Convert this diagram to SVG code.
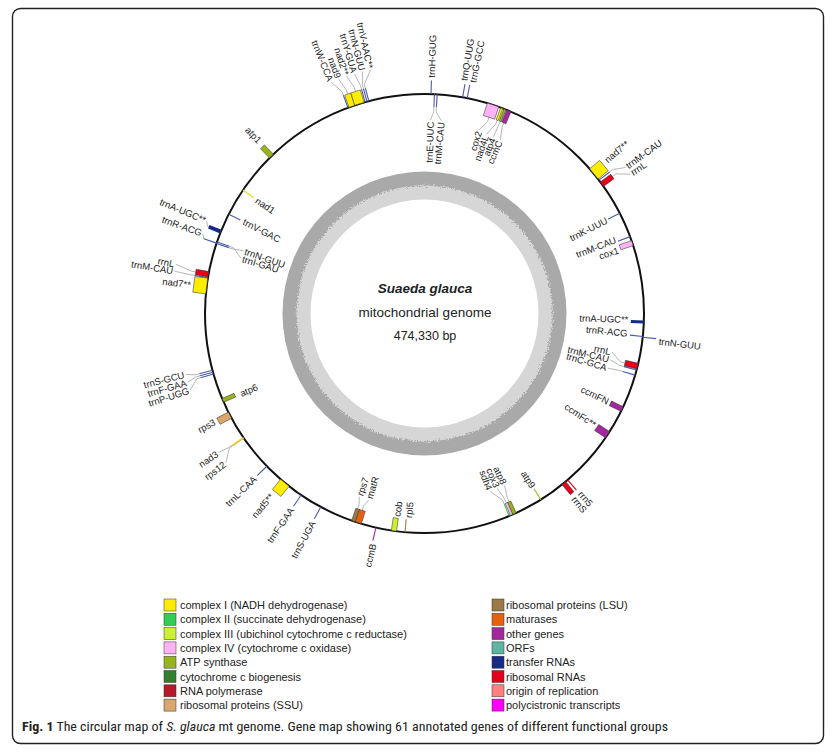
<svg xmlns="http://www.w3.org/2000/svg" width="833" height="755" viewBox="0 0 833 755">
<style>
.lbl{font-family:"Liberation Sans",Arial,sans-serif;font-size:9.5px;fill:#222}
.leg{font-family:"Liberation Sans",Arial,sans-serif;font-size:11px;fill:#222}
.ldr{stroke:#a0a0a0;stroke-width:0.7;fill:none}
.bx{stroke:#333;stroke-width:0.5}
.ln{stroke-width:1.1;fill:none}
.c1{fill:#ffec00}.s1{stroke:#e8d800}
.c2{fill:#33cc55}.s2{stroke:#33cc55}
.c3{fill:#ccf033}.s3{stroke:#b8d840}
.c4{fill:#ffb3f5}.s4{stroke:#e89ae0}
.c5{fill:#99b31a}.s5{stroke:#a8c030}
.c6{fill:#31802f}
.c7{fill:#b5192a}
.c8{fill:#d9a66c}.s8{stroke:#d9a66c}
.c9{fill:#9c7a46}.s9{stroke:#9c7a46}
.c10{fill:#e6600d}
.c11{fill:#a3289e}.s11{stroke:#a3289e}
.c12{fill:#5cb5a2}
.c13{fill:#172a85}.s13{stroke:#4a5aa8}
.c14{fill:#e3001b}.s14{stroke:#e3001b}
.c15{fill:#ff8080}
.c16{fill:#ff00ff}
</style>
<defs>
<filter id="rough" x="-10%" y="-10%" width="120%" height="120%">
<feTurbulence type="fractalNoise" baseFrequency="0.8" numOctaves="2" seed="3" result="n"/>
<feDisplacementMap in="SourceGraphic" in2="n" scale="7" xChannelSelector="R" yChannelSelector="G"/>
</filter>
</defs>
<rect x="0" y="0" width="833" height="755" fill="#fff"/>
<rect x="12.5" y="8.5" width="811" height="735" rx="8" fill="none" stroke="#222" stroke-width="1.4"/>

<g id="gc-ring" transform="translate(424.5 313.5)">
<circle r="142" fill="#a9a9a9"/>
<circle r="128" fill="#d6d6d6" filter="url(#rough)"/>
<circle r="114" fill="#fff"/>
</g>
<g id="title" text-anchor="middle" font-family="Liberation Sans,Arial,sans-serif" fill="#222">
<text x="425" y="293" font-size="13.5" font-weight="bold" font-style="italic">Suaeda glauca</text>
<text x="425" y="317" font-size="13.5">mitochondrial genome</text>
<text x="425" y="340" font-size="12.5">474,330 bp</text>
</g>

<g transform="translate(424.5 313.5)">
<circle id="genome" r="219.5" fill="none" stroke="#111" stroke-width="2"/>

<g id="connectors">
<polyline class="ldr" transform="rotate(-20.4)" points="0,-233 0,-237 -6.9,-249.4"/>
<polyline class="ldr" transform="rotate(-19.3)" points="0,-232.5 0,-237 -3.5,-249.5"/>
<polyline class="ldr" transform="rotate(-17.25)" points="0,-232.5 0,-237 -4.1,-249.5"/>
<polyline class="ldr" transform="rotate(-15.7)" points="0,-233 0,-237 -2.6,-249.5"/>
<polyline class="ldr" transform="rotate(-15.2)" points="0,-233 0,-237 3.5,-249.5"/>
<polyline class="ldr" transform="rotate(-14.7)" points="0,-233 0,-237 9.6,-249.3"/>
<polyline class="ldr" transform="rotate(2.6)" points="0,-206.5 0,-202 -2.7,-193.5"/>
<polyline class="ldr" transform="rotate(3.3)" points="0,-206.5 0,-202 5.74,-193.4"/>
<polyline class="ldr" transform="rotate(18.2)" points="0,-206.5 0,-202 -5.35,-191.4"/>
<polyline class="ldr" transform="rotate(20.6)" points="0,-206.5 0,-202 -5.29,-189.4"/>
<polyline class="ldr" transform="rotate(21.5)" points="0,-206.5 0,-202 -0.66,-189.5"/>
<polyline class="ldr" transform="rotate(22.6)" points="0,-206.5 0,-202 3.31,-189.5"/>
<polyline class="ldr" transform="rotate(52.6)" points="0,-233 0,-237 6.07,-248.4"/>
<polyline class="ldr" transform="rotate(53.9)" points="0,-232.5 0,-237 8.67,-248.3"/>
<polyline class="ldr" transform="rotate(103.9)" points="0,-206.5 0,-202 -7.69,-191.3"/>
<polyline class="ldr" transform="rotate(104.9)" points="0,-206.5 0,-202 -3.01,-191.5"/>
<polyline class="ldr" transform="rotate(106.3)" points="0,-206.5 0,-202 1,-191.5"/>
<polyline class="ldr" transform="rotate(155.8)" points="0,-206.5 0,-202 -2.65,-189.5"/>
<polyline class="ldr" transform="rotate(156.65)" points="0,-206.5 0,-202 2.48,-189.5"/>
<polyline class="ldr" transform="rotate(157.3)" points="0,-206.5 0,-202 8.27,-189.3"/>
<polyline class="ldr" transform="rotate(-161.1)" points="0,-206.5 0,-202 2.38,-194.5"/>
<polyline class="ldr" transform="rotate(-162.45)" points="0,-206.5 0,-202 -3.22,-194.5"/>
<polyline class="ldr" transform="rotate(-124.4)" points="0,-233 0,-237 1.73,-248.5"/>
<polyline class="ldr" transform="rotate(-124.6)" points="0,-233 0,-237 -9.97,-248.3"/>
<polyline class="ldr" transform="rotate(-105)" points="0,-233 0,-237 3.01,-246.5"/>
<polyline class="ldr" transform="rotate(-105.5)" points="0,-233 0,-237 -3.01,-246.5"/>
<polyline class="ldr" transform="rotate(-106)" points="0,-233 0,-237 -9.03,-246.3"/>
<polyline class="ldr" transform="rotate(-80.6)" points="0,-233 0,-237 0.88,-253.5"/>
<polyline class="ldr" transform="rotate(-79.7)" points="0,-232.5 0,-237 3.98,-253.5"/>
<polyline class="ldr" transform="rotate(-71.3)" points="0,-233 4.5,-235.5"/>
<polyline class="ldr" transform="rotate(-71.4)" points="0,-206.5 0,-202 1.67,-191.5"/>
<polyline class="ldr" transform="rotate(-71)" points="0,-206.5 0,-202 -7.69,-191.3"/>
<polyline class="ldr" transform="rotate(-68.1)" points="0,-232.5 0,-234 4.5,-236.5"/>
</g>

<g id="g-trnW-CCA"><line class="ln s13" transform="rotate(-20.4)" y1="-219.5" y2="-233"/><text class="lbl" text-anchor="end" dy=".35em" transform="rotate(-22) translate(0 -251) rotate(90)">trnW-CCA</text></g>
<g id="g-nad9"><rect class="bx c1" x="-3.15" y="-232.5" width="6.3" height="13" transform="rotate(-19.3)"/><text class="lbl" text-anchor="end" dy=".35em" transform="rotate(-20.1) translate(0 -251) rotate(90)">nad9</text></g>
<g id="g-nad2"><rect class="bx c1" x="-4.95" y="-232.5" width="9.9" height="13" transform="rotate(-17.25)"/><text class="lbl" text-anchor="end" dy=".35em" transform="rotate(-18.2) translate(0 -251) rotate(90)">nad2**</text></g>
<g id="g-trnY-GUA"><line class="ln s13" transform="rotate(-15.7)" y1="-219.5" y2="-233"/><text class="lbl" text-anchor="end" dy=".35em" transform="rotate(-16.3) translate(0 -251) rotate(90)">trnY-GUA</text></g>
<g id="g-trnN-GUU-1"><line class="ln s13" transform="rotate(-15.2)" y1="-219.5" y2="-233"/><text class="lbl" text-anchor="end" dy=".35em" transform="rotate(-14.4) translate(0 -251) rotate(90)">trnN-GUU</text></g>
<g id="g-trnV-AAC"><line class="ln s13" transform="rotate(-14.7)" y1="-219.5" y2="-233"/><text class="lbl" text-anchor="end" dy=".35em" transform="rotate(-12.5) translate(0 -251) rotate(90)">trnV-AAC**</text></g>

<g id="g-trnH-GUG"><line class="ln s13" transform="rotate(1.7)" y1="-219.5" y2="-233"/><text class="lbl" dy=".35em" transform="rotate(1.7) translate(0 -236) rotate(-90)">trnH-GUG</text></g>
<g id="g-trnE-UUC"><line class="ln s13" transform="rotate(2.6)" y1="-219.5" y2="-206.5"/><text class="lbl" text-anchor="end" dy=".35em" transform="rotate(1.8) translate(0 -192) rotate(-90)">trnE-UUC</text></g>
<g id="g-trnM-CAU-1"><line class="ln s13" transform="rotate(3.3)" y1="-219.5" y2="-206.5"/><text class="lbl" text-anchor="end" dy=".35em" transform="rotate(5) translate(0 -192) rotate(-90)">trnM-CAU</text></g>
<g id="g-trnQ-UUG"><line class="ln s13" transform="rotate(10)" y1="-219.5" y2="-233"/><text class="lbl" dy=".35em" transform="rotate(9.6) translate(0 -236) rotate(-90)">trnQ-UUG</text></g>
<g id="g-trnG-GCC"><line class="ln s13" transform="rotate(11.2)" y1="-219.5" y2="-233"/><text class="lbl" dy=".35em" transform="rotate(11.8) translate(0 -236) rotate(-90)">trnG-GCC</text></g>
<g id="g-cox2"><rect class="bx c4" x="-5.95" y="-219.5" width="11.9" height="13" transform="rotate(18.2)"/><text class="lbl" text-anchor="end" dy=".35em" transform="rotate(16.6) translate(0 -190) rotate(-90)">cox2</text></g>
<g id="g-nad4L"><rect class="bx c1" x="-1.1" y="-219.5" width="2.2" height="13" transform="rotate(20.6)"/><text class="lbl" text-anchor="end" dy=".35em" transform="rotate(19) translate(0 -188) rotate(-90)">nad4L</text></g>
<g id="g-atp4"><rect class="bx c5" x="-1.1" y="-219.5" width="2.2" height="13" transform="rotate(21.5)"/><text class="lbl" text-anchor="end" dy=".35em" transform="rotate(21.3) translate(0 -188) rotate(-90)">atp4</text></g>
<g id="g-ccmC"><rect class="bx c11" x="-2.25" y="-219.5" width="4.5" height="13" transform="rotate(22.6)"/><text class="lbl" text-anchor="end" dy=".35em" transform="rotate(23.6) translate(0 -188) rotate(-90)">ccmC</text></g>

<g id="g-nad7-1"><rect class="bx c1" x="-6.7" y="-232.5" width="13.4" height="13" transform="rotate(50.5)"/><text class="lbl" dy=".35em" transform="rotate(49.9) translate(0 -237) rotate(-90)">nad7**</text></g>
<g id="g-trnM-CAU-2"><line class="ln s13" transform="rotate(52.6)" y1="-219.5" y2="-233"/><text class="lbl" dy=".35em" transform="rotate(54) translate(0 -250) rotate(-90)">trnM-CAU</text></g>
<g id="g-rrnL-1"><rect class="bx c14" x="-2.75" y="-232.5" width="5.5" height="13" transform="rotate(53.9)"/><text class="lbl" dy=".35em" transform="rotate(55.9) translate(0 -250) rotate(-90)">rrnL</text></g>
<g id="g-trnK-UUU"><line class="ln s13" transform="rotate(62.8)" y1="-219.5" y2="-206.5"/><text class="lbl" text-anchor="end" dy=".35em" transform="rotate(62.8) translate(0 -205) rotate(-90)">trnK-UUU</text></g>
<g id="g-trnM-CAU-3"><line class="ln s13" transform="rotate(69.5)" y1="-219.5" y2="-206.5"/><text class="lbl" text-anchor="end" dy=".35em" transform="rotate(68.9) translate(0 -205) rotate(-90)">trnM-CAU</text></g>
<g id="g-cox1"><rect class="bx c4" x="-2.6" y="-219.5" width="5.2" height="13" transform="rotate(71.3)"/><text class="lbl" text-anchor="end" dy=".35em" transform="rotate(71.9) translate(0 -204) rotate(-90)">cox1</text></g>
<g id="g-trnA-UGC-1"><rect class="c13" x="-1.5" y="-219.5" width="3" height="13" transform="rotate(92.2)"/><text class="lbl" text-anchor="end" dy=".35em" transform="rotate(91.7) translate(0 -204) rotate(-90)">trnA-UGC**</text></g>
<g id="g-trnR-ACG-1"><line class="ln s13" transform="rotate(96)" y1="-219.5" y2="-206.5"/><text class="lbl" text-anchor="end" dy=".35em" transform="rotate(95.6) translate(0 -204) rotate(-90)">trnR-ACG</text></g>
<g id="g-trnN-GUU-2"><line class="ln s13" transform="rotate(96.2)" y1="-219.5" y2="-233"/><text class="lbl" dy=".35em" transform="rotate(96.8) translate(0 -236) rotate(-90)">trnN-GUU</text></g>
<g id="g-rrnL-2"><rect class="bx c14" x="-2.95" y="-219.5" width="5.9" height="13" transform="rotate(103.9)"/><text class="lbl" text-anchor="end" dy=".35em" transform="rotate(101.6) translate(0 -190) rotate(-90)">rrnL</text></g>
<g id="g-trnM-CAU-4"><line class="ln s13" transform="rotate(104.9)" y1="-219.5" y2="-206.5"/><text class="lbl" text-anchor="end" dy=".35em" transform="rotate(104) translate(0 -190) rotate(-90)">trnM-CAU</text></g>
<g id="g-trnC-GCA"><line class="ln s13" transform="rotate(106.3)" y1="-219.5" y2="-206.5"/><text class="lbl" text-anchor="end" dy=".35em" transform="rotate(106.6) translate(0 -190) rotate(-90)">trnC-GCA</text></g>
<g id="g-ccmFN"><rect class="bx c11" x="-2.6" y="-219.5" width="5.2" height="13" transform="rotate(115.8)"/><text class="lbl" text-anchor="end" dy=".35em" transform="rotate(115.6) translate(0 -204) rotate(-90)">ccmFN</text></g>
<g id="g-ccmFc"><rect class="bx c11" x="-3.7" y="-219.5" width="7.4" height="13" transform="rotate(123.5)"/><text class="lbl" text-anchor="end" dy=".35em" transform="rotate(123.2) translate(0 -204) rotate(-90)">ccmFc**</text></g>
<g id="g-rrn5"><line class="ln s14" transform="rotate(139.3)" y1="-219.5" y2="-233"/><text class="lbl" dy=".35em" transform="rotate(139) translate(0 -237) rotate(-90)">rrn5</text></g>
<g id="g-rrnS"><rect class="bx c14" x="-2.35" y="-232.5" width="4.7" height="13" transform="rotate(140.6)"/><text class="lbl" dy=".35em" transform="rotate(141) translate(0 -237) rotate(-90)">rrnS</text></g>
<g id="g-atp9"><line class="ln s5" transform="rotate(148)" y1="-219.5" y2="-206.5"/><text class="lbl" text-anchor="end" dy=".35em" transform="rotate(148) translate(0 -205) rotate(-90)">atp9</text></g>
<g id="g-atp8"><rect class="bx c5" x="-1.85" y="-219.5" width="3.7" height="13" transform="rotate(155.8)"/><text class="lbl" text-anchor="end" dy=".35em" transform="rotate(155) translate(0 -188) rotate(-90)">atp8</text></g>
<g id="g-cox3"><rect class="bx c4" x="-1.3" y="-219.5" width="2.6" height="13" transform="rotate(156.65)"/><text class="lbl" text-anchor="end" dy=".35em" transform="rotate(157.4) translate(0 -188) rotate(-90)">cox3</text></g>
<g id="g-sdh4"><line class="ln s2" transform="rotate(157.3)" y1="-219.5" y2="-206.5"/><text class="lbl" text-anchor="end" dy=".35em" transform="rotate(159.8) translate(0 -188) rotate(-90)">sdh4</text></g>

<g id="g-rpl5"><line class="ln s9" transform="rotate(-174.9)" y1="-219.5" y2="-206.5"/><text class="lbl" dy=".35em" transform="rotate(-175.6) translate(0 -205) rotate(90)">rpl5</text></g>
<g id="g-cob"><rect class="bx c3" x="-2.6" y="-219.5" width="5.2" height="13" transform="rotate(-172)"/><text class="lbl" dy=".35em" transform="rotate(-172.3) translate(0 -205) rotate(90)">cob</text></g>
<g id="g-ccmB"><line class="ln s11" transform="rotate(-167.2)" y1="-219.5" y2="-233"/><text class="lbl" text-anchor="end" dy=".35em" transform="rotate(-167.4) translate(0 -236) rotate(90)">ccmB</text></g>
<g id="g-matR"><rect class="bx c10" x="-3.15" y="-219.5" width="6.3" height="13" transform="rotate(-162.45)"/><text class="lbl" dy=".35em" transform="rotate(-163.4) translate(0 -193) rotate(90)">matR</text></g>
<g id="g-rps7"><rect class="bx c9" x="-1.85" y="-219.5" width="3.7" height="13" transform="rotate(-161.1)"/><text class="lbl" dy=".35em" transform="rotate(-160.4) translate(0 -193) rotate(90)">rps7</text></g>
<g id="g-trnS-UGA"><line class="ln s13" transform="rotate(-151.8)" y1="-219.5" y2="-233"/><text class="lbl" text-anchor="end" dy=".35em" transform="rotate(-151.8) translate(0 -236) rotate(90)">trnS-UGA</text></g>
<g id="g-trnF-GAA-1"><line class="ln s13" transform="rotate(-145.8)" y1="-219.5" y2="-233"/><text class="lbl" text-anchor="end" dy=".35em" transform="rotate(-145.8) translate(0 -236) rotate(90)">trnF-GAA</text></g>
<g id="g-nad5"><rect class="bx c1" x="-5.5" y="-232.5" width="11" height="13" transform="rotate(-140.5)"/><text class="lbl" text-anchor="end" dy=".35em" transform="rotate(-139.9) translate(0 -237) rotate(90)">nad5**</text></g>
<g id="g-trnL-CAA"><line class="ln s13" transform="rotate(-134.1)" y1="-219.5" y2="-233"/><text class="lbl" text-anchor="end" dy=".35em" transform="rotate(-134.1) translate(0 -236) rotate(90)">trnL-CAA</text></g>
<g id="g-rps12"><line class="ln s8" transform="rotate(-124.6)" y1="-219.5" y2="-233"/><text class="lbl" text-anchor="end" dy=".35em" transform="rotate(-126.9) translate(0 -250) rotate(90)">rps12</text></g>
<g id="g-nad3"><line class="ln s1" stroke-width="1.6" transform="rotate(-124.4)" y1="-219.5" y2="-233"/><text class="lbl" text-anchor="end" dy=".35em" transform="rotate(-124) translate(0 -250) rotate(90)">nad3</text></g>
<g id="g-rps3"><rect class="bx c8" x="-3.55" y="-232.5" width="7.1" height="13" transform="rotate(-117.6)"/><text class="lbl" text-anchor="end" dy=".35em" transform="rotate(-117.3) translate(0 -236) rotate(90)">rps3</text></g>
<g id="g-atp6"><rect class="bx c5" x="-2.05" y="-219.5" width="4.1" height="13" transform="rotate(-113.3)"/><text class="lbl" dy=".35em" transform="rotate(-113.6) translate(0 -201) rotate(90)">atp6</text></g>
<g id="g-trnS-GCU"><line class="ln s13" transform="rotate(-105)" y1="-219.5" y2="-233"/><text class="lbl" text-anchor="end" dy=".35em" transform="rotate(-104.3) translate(0 -248) rotate(90)">trnS-GCU</text></g>
<g id="g-trnF-GAA-2"><line class="ln s13" transform="rotate(-105.5)" y1="-219.5" y2="-233"/><text class="lbl" text-anchor="end" dy=".35em" transform="rotate(-106.2) translate(0 -248) rotate(90)">trnF-GAA</text></g>
<g id="g-trnP-UGG"><line class="ln s13" transform="rotate(-106)" y1="-219.5" y2="-233"/><text class="lbl" text-anchor="end" dy=".35em" transform="rotate(-108.1) translate(0 -248) rotate(90)">trnP-UGG</text></g>
<g id="g-nad7-2"><rect class="bx c1" x="-7.9" y="-232.5" width="15.8" height="13" transform="rotate(-82.8)"/><text class="lbl" text-anchor="end" dy=".35em" transform="rotate(-83) translate(0 -235.5) rotate(90)">nad7**</text></g>
<g id="g-trnM-CAU-5"><line class="ln s13" transform="rotate(-80.6)" y1="-219.5" y2="-233"/><text class="lbl" text-anchor="end" dy=".35em" transform="rotate(-80.4) translate(0 -255) rotate(90)">trnM-CAU</text></g>
<g id="g-rrnL-3"><rect class="bx c14" x="-2.75" y="-232.5" width="5.5" height="13" transform="rotate(-79.7)"/><text class="lbl" text-anchor="end" dy=".35em" transform="rotate(-78.8) translate(0 -255) rotate(90)">rrnL</text></g>
<g id="g-trnR-ACG-2"><line class="ln s13" transform="rotate(-71.3)" y1="-219.5" y2="-233"/><text class="lbl" text-anchor="end" dy=".35em" transform="rotate(-70.2) translate(0 -237) rotate(90)">trnR-ACG</text></g>
<g id="g-trnN-GUU-3"><line class="ln s13" transform="rotate(-71.4)" y1="-219.5" y2="-206.5"/><text class="lbl" dy=".35em" transform="rotate(-70.9) translate(0 -190) rotate(90)">trnN-GUU</text></g>
<g id="g-trnI-GAU"><line class="ln s13" transform="rotate(-71)" y1="-219.5" y2="-206.5"/><text class="lbl" dy=".35em" transform="rotate(-73.3) translate(0 -190) rotate(90)">trnI-GAU</text></g>
<g id="g-trnA-UGC-2"><rect class="c13" x="-1.95" y="-232.5" width="3.9" height="13" transform="rotate(-68.1)"/><text class="lbl" text-anchor="end" dy=".35em" transform="rotate(-67) translate(0 -238) rotate(90)">trnA-UGC**</text></g>
<g id="g-trnV-GAC"><line class="ln s13" transform="rotate(-63.1)" y1="-219.5" y2="-206.5"/><text class="lbl" dy=".35em" transform="rotate(-63) translate(0 -203) rotate(90)">trnV-GAC</text></g>
<g id="g-nad1"><line class="ln s1" transform="rotate(-55.8)" y1="-219.5" y2="-206.5"/><text class="lbl" dy=".35em" transform="rotate(-55.9) translate(0 -203) rotate(90)">nad1</text></g>
<g id="g-atp1"><rect class="bx c5" x="-2.75" y="-232.5" width="5.5" height="13" transform="rotate(-44.2)"/><text class="lbl" text-anchor="end" dy=".35em" transform="rotate(-43.8) translate(0 -238) rotate(90)">atp1</text></g>
</g>

<g id="legend">
<g class="bx"><rect class="c1" x="164" y="599" width="12" height="12"/><rect class="c2" x="164" y="613.3" width="12" height="12"/><rect class="c3" x="164" y="627.6" width="12" height="12"/><rect class="c4" x="164" y="641.9" width="12" height="12"/><rect class="c5" x="164" y="656.2" width="12" height="12"/><rect class="c6" x="164" y="670.5" width="12" height="12"/><rect class="c7" x="164" y="684.8" width="12" height="12"/><rect class="c8" x="164" y="699.1" width="12" height="12"/>
<rect class="c9" x="492" y="599" width="12" height="12"/><rect class="c10" x="492" y="613.3" width="12" height="12"/><rect class="c11" x="492" y="627.6" width="12" height="12"/><rect class="c12" x="492" y="641.9" width="12" height="12"/><rect class="c13" x="492" y="656.2" width="12" height="12"/><rect class="c14" x="492" y="670.5" width="12" height="12"/><rect class="c15" x="492" y="684.8" width="12" height="12"/><rect class="c16" x="492" y="699.1" width="12" height="12"/></g>
<text class="leg" x="180" y="609">complex I (NADH dehydrogenase)</text>
<text class="leg" x="180" y="623.3">complex II (succinate dehydrogenase)</text>
<text class="leg" x="180" y="637.6">complex III (ubichinol cytochrome c reductase)</text>
<text class="leg" x="180" y="651.9">complex IV (cytochrome c oxidase)</text>
<text class="leg" x="180" y="666.2">ATP synthase</text>
<text class="leg" x="180" y="680.5">cytochrome c biogenesis</text>
<text class="leg" x="180" y="694.8">RNA polymerase</text>
<text class="leg" x="180" y="709.1">ribosomal proteins (SSU)</text>
<text class="leg" x="506" y="609">ribosomal proteins (LSU)</text>
<text class="leg" x="506" y="623.3">maturases</text>
<text class="leg" x="506" y="637.6">other genes</text>
<text class="leg" x="506" y="651.9">ORFs</text>
<text class="leg" x="506" y="666.2">transfer RNAs</text>
<text class="leg" x="506" y="680.5">ribosomal RNAs</text>
<text class="leg" x="506" y="694.8">origin of replication</text>
<text class="leg" x="506" y="709.1">polycistronic transcripts</text>
</g>

<g id="caption">
<text x="22" y="731" font-family="Liberation Sans Narrow,Roboto Condensed,Liberation Sans,sans-serif" font-size="12" fill="#222" textLength="646" lengthAdjust="spacingAndGlyphs"><tspan font-weight="bold">Fig. 1</tspan> The circular map of <tspan font-style="italic">S. glauca</tspan> mt genome. Gene map showing 61 annotated genes of different functional groups</text>
</g>
</svg>
